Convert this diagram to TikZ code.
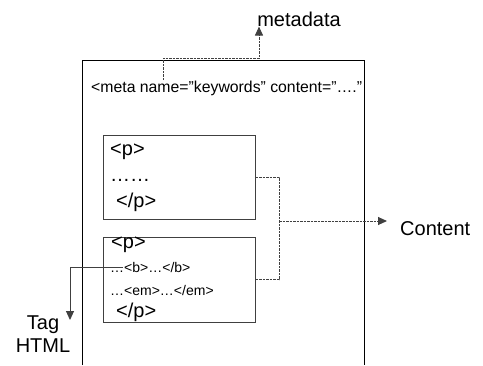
\documentclass[tikz,border=0pt]{standalone}
\usepackage{fontspec}
\setmainfont{Liberation Sans}
\usetikzlibrary{arrows.meta}
\definecolor{linegray}{HTML}{404040}
\newcommand{\bigtxt}{\fontsize{20}{23.5}\selectfont}
\newcommand{\midtxt}{\fontsize{15.8}{18}\selectfont}
\newcommand{\smalltxt}{\fontsize{14}{16}\selectfont}
\newcommand{\qt}{\symbol{34}}
\tikzset{
  txt/.style={inner sep=0pt, anchor=west, text=black},
  parabox/.style={draw=linegray, line width=1pt, minimum width=152pt, inner sep=0pt},
  dashline/.style={draw=linegray, line width=1pt, dash pattern=on 2.5pt off 1pt},
  tiparrow/.style={-{Triangle[length=9pt,width=8pt]}}
}

\begin{document}
\begin{tikzpicture}[x=1pt,y=-1pt]
\useasboundingbox (0,0) rectangle (483,365);

% page
\draw [line width=1pt] (82,365) -- (82,60) -- (364,60) -- (364,365);

% meta line
\node [txt,font=\midtxt] (meta) at (91,88) {<meta name=\qt keywords\qt{} content=\qt….\qt};
\node [inner sep=0pt,font=\bigtxt] (metadata) at (299,19) {metadata};
\coordinate (metaout) at (163,80);
\coordinate (metabend) at (259,58);
\draw [dashline,tiparrow] (metaout) |- (metabend) -- (metabend |- metadata.south);

% first paragraph
\node [parabox,minimum height=84pt] (para1) at (179,177) {};
\node [txt,font=\bigtxt] (p1open) at (110,152) {<p>};
\node [txt,font=\bigtxt] (p1dots) at (110,180) {……};
\node [txt,font=\bigtxt] (p1close) at (116,202) {</p>};

% second paragraph
\node [parabox,minimum height=85pt] (para2) at (179,279.5) {};
\node [txt,font=\bigtxt] (p2open) at (111,245) {<p>};
\node [txt,font=\smalltxt] (p2b) at (110,267) {…<b>…</b>};
\node [txt,font=\smalltxt] (p2em) at (110,290) {…<em>…</em>};
\node [txt,font=\bigtxt] (p2close) at (116,312) {</p>};

% content
\coordinate (join) at (279,221);
\node [txt,font=\bigtxt] (content) at (400,229) {Content};
\draw [dashline] (para1.east) -| (join);
\draw [dashline] (para2.east) -| (join);
\draw [dashline,tiparrow] (join) -- (387,221);

% tag html
\node [inner sep=0pt,align=center,font=\bigtxt] (tag) at (43,334) {Tag\\HTML};
\coordinate (tagfrom) at (123,267);
\coordinate (tagto) at (70,320);
\draw [linegray,line width=1pt,tiparrow] (tagfrom) -| (tagto);
\end{tikzpicture}
\end{document}
